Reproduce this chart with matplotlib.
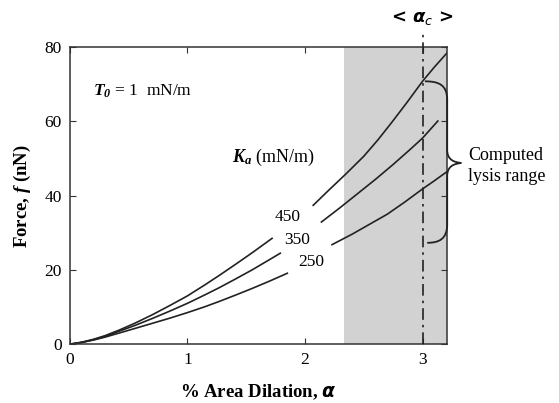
import numpy as np
import matplotlib
matplotlib.use("Agg")
import matplotlib.pyplot as plt
from matplotlib.path import Path
from matplotlib.patches import PathPatch

plt.rcParams['font.family'] = ['Liberation Serif', 'DejaVu Serif']
plt.rcParams['mathtext.fontset'] = 'custom'
plt.rcParams['mathtext.rm'] = 'Liberation Serif'
plt.rcParams['mathtext.it'] = 'Liberation Serif:italic'
plt.rcParams['mathtext.bf'] = 'Liberation Serif:bold'
plt.rcParams['mathtext.bfit'] = 'Liberation Serif:italic:bold'

# curves; each is split where its label sits
ka_labels = ['450', '350', '250']
low_x = {
    '450': [0, 0.1, 0.2, 0.3, 0.42, 0.55, 0.7, 0.85, 1.0, 1.15, 1.27, 1.4, 1.55, 1.72],
    '350': [0, 0.1, 0.2, 0.3, 0.42, 0.55, 0.7, 0.85, 1.0, 1.15, 1.27, 1.4, 1.55, 1.7, 1.79],
    '250': [0, 0.1, 0.2, 0.3, 0.42, 0.55, 0.7, 0.85, 1.0, 1.15, 1.27, 1.4, 1.55, 1.7, 1.85],
}
low_y = {
    '450': [0, 0.5, 1.3, 2.3, 3.8, 5.6, 7.9, 10.4, 13.0, 16.0, 18.5, 21.3, 24.6, 28.5],
    '350': [0, 0.5, 1.2, 2.1, 3.5, 5.0, 6.9, 8.9, 11.0, 13.3, 15.2, 17.4, 20.0, 22.8, 24.5],
    '250': [0, 0.45, 1.1, 1.9, 3.0, 4.2, 5.6, 7.0, 8.5, 10.1, 11.5, 13.1, 15.0, 17.0, 19.1],
}
high_x = {
    '450': [2.07, 2.2, 2.35, 2.5, 2.62, 2.74, 2.87, 3.0, 3.1, 3.21],
    '350': [2.14, 2.3, 2.45, 2.6, 2.75, 2.9, 3.0, 3.13],
    '250': [2.23, 2.4, 2.55, 2.7, 2.85, 3.0, 3.1, 3.21],
}
high_y = {
    '450': [37.4, 41.4, 45.9, 50.6, 55.0, 59.8, 65.2, 70.8, 74.6, 78.5],
    '350': [32.9, 36.8, 40.6, 44.4, 48.4, 52.6, 55.5, 60.1],
    '250': [26.8, 29.6, 32.3, 35.0, 38.3, 41.8, 44.0, 46.5],
}
label_pos = {'450': (1.85, 34.2), '350': (1.93, 28.0), '250': (2.05, 22.1)}

lysis_lo, lysis_hi = 2.33, 3.21
alpha_c = 3.0
xticks = [0, 1, 2, 3]
yticks = [0, 20, 40, 60, 80]

fig = plt.figure(figsize=(5.59, 4.03), dpi=100)
ax = fig.add_axes([0.125, 0.146, 0.675, 0.737])

ax.axvspan(lysis_lo, lysis_hi, color='#d2d2d2', lw=0, zorder=0)

for k in ka_labels:
    ax.plot(low_x[k], low_y[k], color='#222222', lw=1.2)
    ax.plot(high_x[k], high_y[k], color='#222222', lw=1.2)
    ax.text(*label_pos[k], k, ha='center', va='center', fontsize=12.5)

ax.plot([alpha_c, alpha_c], [0, 84], color='#222222', lw=1.2,
        ls=(0, (7, 3, 1.5, 3)), clip_on=False, zorder=3)
ax.text(alpha_c, 85.5, r'< $\boldsymbol{\alpha}_c$ >', ha='center', va='bottom',
        fontsize=13, fontweight='bold', family='DejaVu Sans',
        math_fontfamily='dejavusans')

# curly brace for the computed lysis range
top, bot, mid = 70.8, 27.3, 48.8
xb, xv, xt = 3.02, 3.21, 3.33
verts = [(xb, top), (3.14, top), (xv, top - 1), (xv, top - 5),
         (xv, mid + 3.5),
         (xv, mid + 0.8), (xt - 0.06, mid + 0.2), (xt, mid),
         (xt - 0.06, mid - 0.2), (xv, mid - 0.8), (xv, mid - 3.5),
         (xv, bot + 5), (xv, bot + 1), (3.14, bot), (xb + 0.02, bot)]
codes = [Path.MOVETO, Path.CURVE4, Path.CURVE4, Path.CURVE4,
         Path.LINETO,
         Path.CURVE4, Path.CURVE4, Path.CURVE4,
         Path.CURVE4, Path.CURVE4, Path.CURVE4,
         Path.LINETO, Path.CURVE4, Path.CURVE4, Path.CURVE4]
ax.add_patch(PathPatch(Path(verts, codes), fill=False, color='#222222',
                       lw=1.3, clip_on=False, zorder=4))
ax.text(3.385, 48.0, 'Computed\nlysis range', ha='left', va='center',
        fontsize=13, linespacing=1.25)

ax.text(0.2, 68, r'$\mathbfit{T}_{\mathbfit{0}}$ = 1  mN/m', fontsize=12.5,
        va='center')
ax.text(1.38, 50.2, r'$\mathbfit{K}_{\mathbfit{a}}$ (mN/m)', fontsize=13,
        va='center')

ax.set_xlim(0, 3.21)
ax.set_ylim(0, 80)
ax.set_xticks(xticks)
ax.set_yticks(yticks)
ax.tick_params(direction='in', length=4, top=True, right=True,
               labelsize=12.5, color='#333333', pad=6)
for s in ax.spines.values():
    s.set_color('#333333')
    s.set_linewidth(1.1)

ax.set_xlabel(r'% Area Dilation, $\boldsymbol{\alpha}$', fontsize=13.5,
              fontweight='bold', math_fontfamily='dejavusans', labelpad=10)
ax.set_ylabel(r'Force, $\mathbfit{f}$ (nN)', fontsize=13.5, fontweight='bold',
              labelpad=8)

fig.savefig('out.png', dpi=100)
